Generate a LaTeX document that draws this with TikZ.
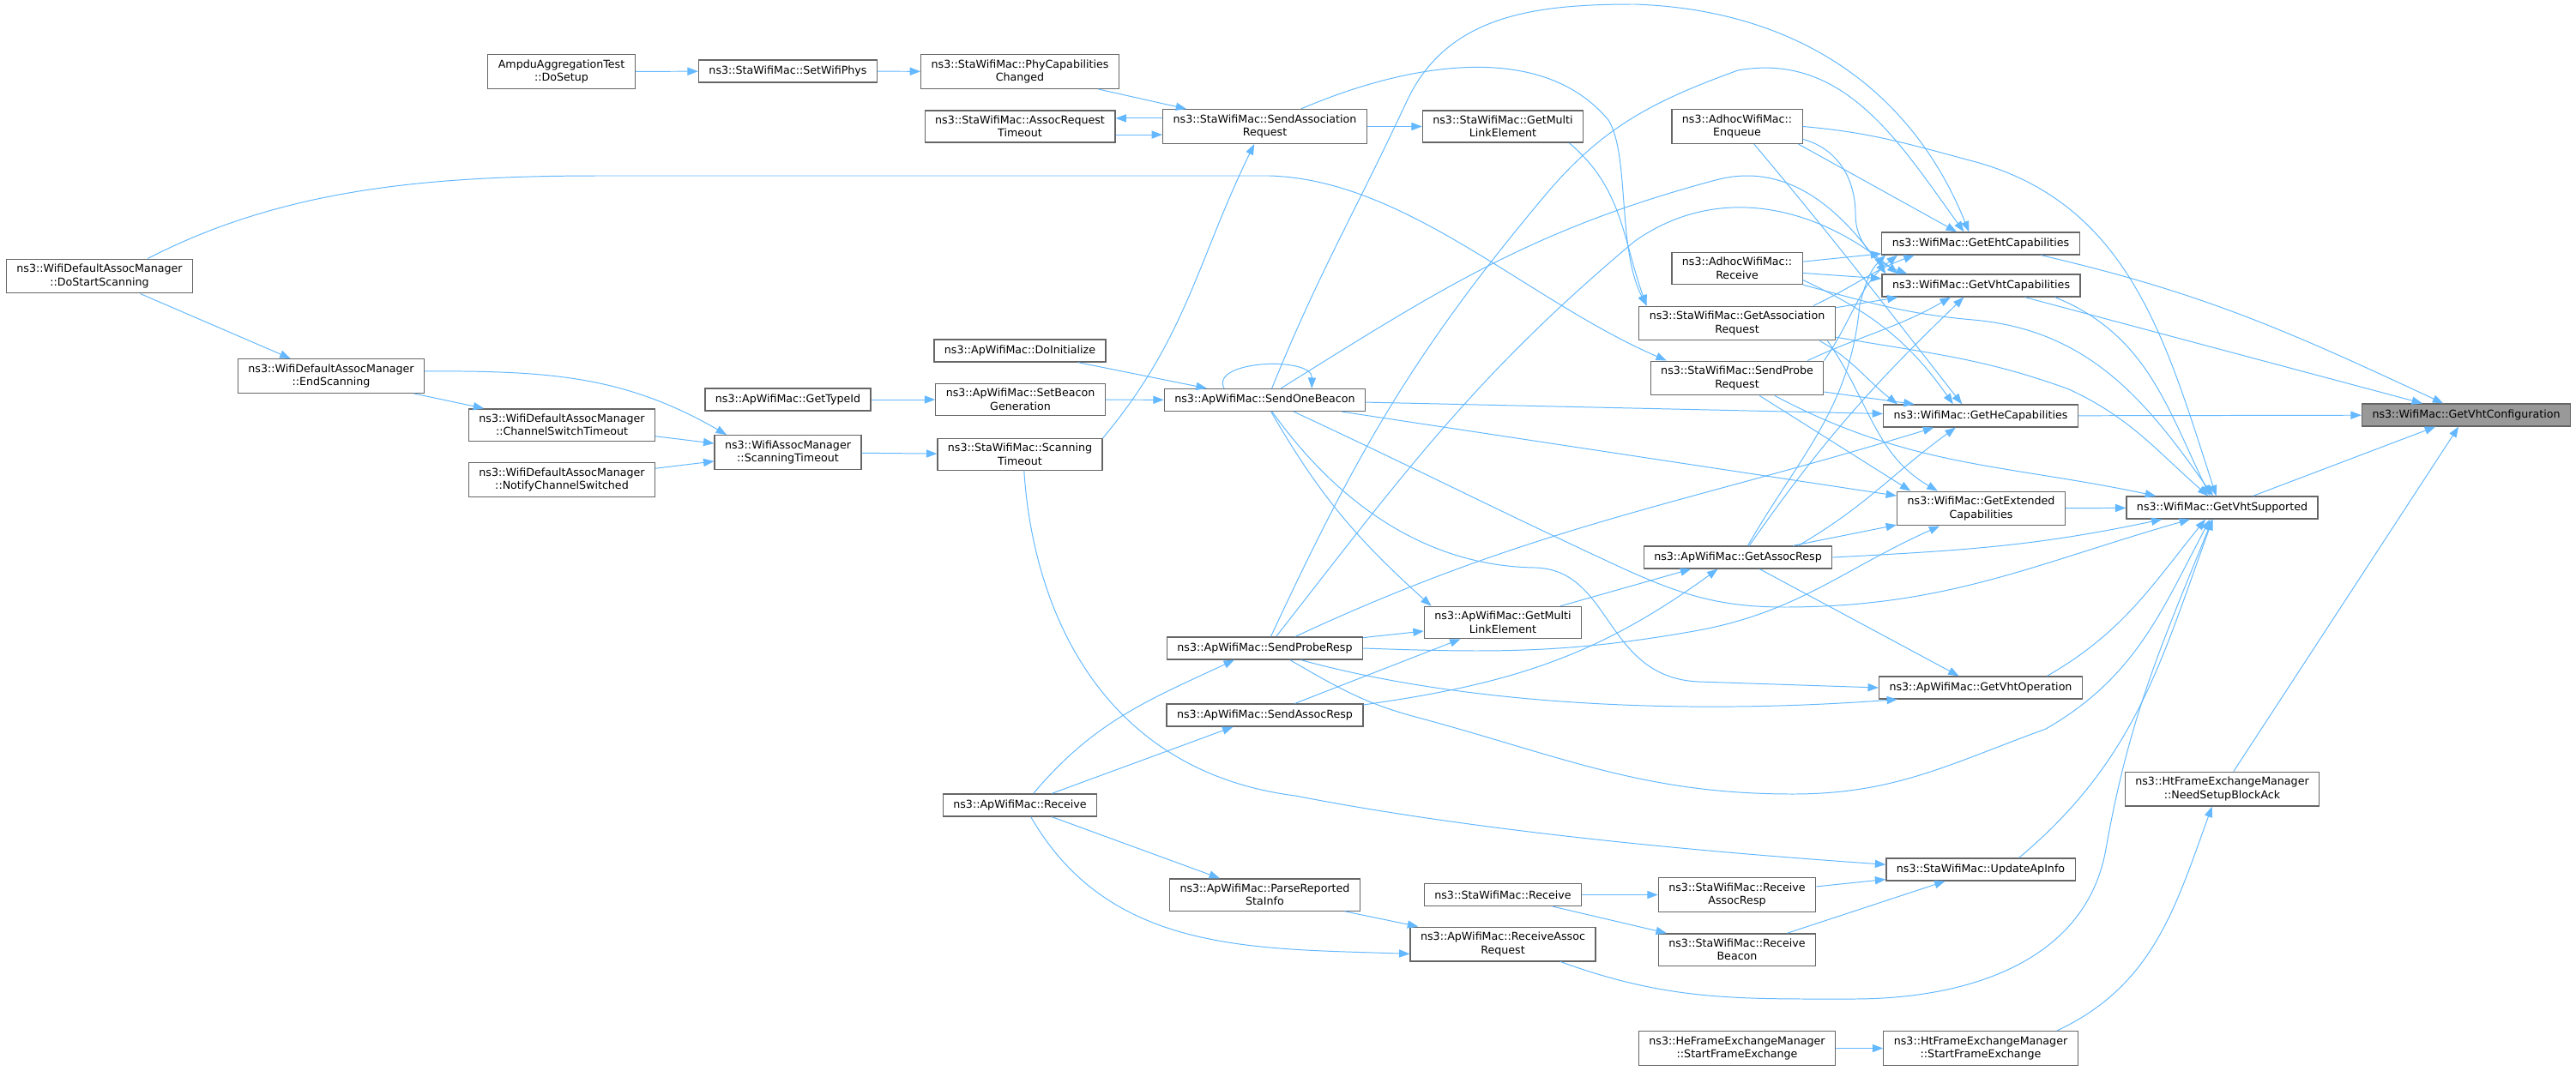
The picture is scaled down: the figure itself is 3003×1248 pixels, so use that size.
\documentclass[tikz,border=0pt]{standalone}
\usepackage{fontspec}
\setmainfont{DejaVu Sans}
\usepackage{tikz}
\usetikzlibrary{arrows.meta}

\definecolor{edgeblue}{HTML}{63B8FF}
\definecolor{boxline}{HTML}{666666}
\definecolor{rootfill}{HTML}{999999}

\begin{document}
\begin{tikzpicture}[x=0.25mm, y=-0.25mm, font=\fontsize{9}{11}\selectfont]
      \useasboundingbox (0,0) rectangle (3003,1248);

      \begin{scope}[every node/.style={rectangle, draw=boxline, fill=white, line width=0.9pt, inner xsep=3mm, inner ysep=1.5mm, minimum height=6.5mm, align=center}]
        \node (dostart) at (116,322) {ns3::WifiDefaultAssocManager\\::DoStartScanning};
        \node (endscan) at (386,438.5) {ns3::WifiDefaultAssocManager\\::EndScanning};
        \node (chswitch) at (655,495.5) {ns3::WifiDefaultAssocManager\\::ChannelSwitchTimeout};
        \node (notifych) at (655,559.5) {ns3::WifiDefaultAssocManager\\::NotifyChannelSwitched};
        \node (ampdu) at (654.5,83.5) {AmpduAggregationTest\\::DoSetup};
        \node (setphys) at (918.5,83) {ns3::StaWifiMac::SetWifiPhys};
        \node (gettypeid) at (918.5,466) {ns3::ApWifiMac::GetTypeId};
        \node (scantimeout) at (918.5,527.5) {ns3::WifiAssocManager\\::ScanningTimeout};
        \node (phycap) at (1189,83.5) {ns3::StaWifiMac::PhyCapabilities\\Changed};
        \node (assoctimeout) at (1189,147.5) {ns3::StaWifiMac::AssocRequest\\Timeout};
        \node (doinit) at (1189,409) {ns3::ApWifiMac::DoInitialize};
        \node (setbeacon) at (1189.5,466) {ns3::ApWifiMac::SetBeacon\\Generation};
        \node (stascan) at (1189,530) {ns3::StaWifiMac::Scanning\\Timeout};
        \node (apreceive) at (1189,939) {ns3::ApWifiMac::Receive};
        \node (sendassoc) at (1474.5,147.5) {ns3::StaWifiMac::SendAssociation\\Request};
        \node (sendbeacon) at (1474.5,466.5) {ns3::ApWifiMac::SendOneBeacon};
        \node (sendproberesp) at (1474.5,756) {ns3::ApWifiMac::SendProbeResp};
        \node (sendassocresp) at (1474.5,834) {ns3::ApWifiMac::SendAssocResp};
        \node (parsesta) at (1474.5,1043.5) {ns3::ApWifiMac::ParseReported\\StaInfo};
        \node (stamle) at (1752,147.5) {ns3::StaWifiMac::GetMulti\\LinkElement};
        \node (apmle) at (1752,726) {ns3::ApWifiMac::GetMulti\\LinkElement};
        \node (starx) at (1752,1043.5) {ns3::StaWifiMac::Receive};
        \node (rxassocreq) at (1752,1101) {ns3::ApWifiMac::ReceiveAssoc\\Request};
        \node (enqueue) at (2025,147.5) {ns3::AdhocWifiMac::\\Enqueue};
        \node (adhocrx) at (2025,313) {ns3::AdhocWifiMac::\\Receive};
        \node (getassocreq) at (2025,377) {ns3::StaWifiMac::GetAssociation\\Request};
        \node (sendprobereq) at (2025,441) {ns3::StaWifiMac::SendProbe\\Request};
        \node (getassocresp) at (2026,650) {ns3::ApWifiMac::GetAssocResp};
        \node (rxassocresp) at (2025,1043.5) {ns3::StaWifiMac::Receive\\AssocResp};
        \node (rxbeacon) at (2025,1107.5) {ns3::StaWifiMac::Receive\\Beacon};
        \node (hestart) at (2025,1222.5) {ns3::HeFrameExchangeManager\\::StartFrameExchange};
        \node (ehtcap) at (2309,284) {ns3::WifiMac::GetEhtCapabilities};
        \node (vhtcap) at (2309.5,333) {ns3::WifiMac::GetVhtCapabilities};
        \node (hecap) at (2309,485) {ns3::WifiMac::GetHeCapabilities};
        \node (extcap) at (2309.5,593) {ns3::WifiMac::GetExtended\\Capabilities};
        \node (getvhtop) at (2309,802) {ns3::ApWifiMac::GetVhtOperation};
        \node (updateap) at (2309,1014) {ns3::StaWifiMac::UpdateApInfo};
        \node (htstart) at (2309,1222.5) {ns3::HtFrameExchangeManager\\::StartFrameExchange};
        \node (vhtsupp) at (2590.5,592) {ns3::WifiMac::GetVhtSupported};
        \node (needba) at (2590.5,920) {ns3::HtFrameExchangeManager\\::NeedSetupBlockAck};
        \node[fill=rootfill] (vhtconf) at (2875,484) {ns3::WifiMac::GetVhtConfiguration};
      \end{scope}

      \begin{scope}[->, >={Triangle[length=3.1mm, width=2.3mm]}, color=edgeblue, line width=0.7pt]
        % scanning and association
        \draw (ampdu) to (setphys);
        \draw (setphys) to (phycap);
        \draw (phycap) to (sendassoc);
        \draw ([yshift=2.4mm]sendassoc.west) to ([yshift=2.4mm]assoctimeout.east);
        \draw ([yshift=-2.4mm]assoctimeout.east) to ([yshift=-2.4mm]sendassoc.west);
        \draw (sendassoc) to (stamle);
        \draw (sendassoc.26) .. controls (1650,70) and (1800,50) .. (1875,140) .. controls (1900,180) and (1885,290) .. (getassocreq.169);
        \draw (stamle.-14) to [out=-40, in=110] (getassocreq.169);
        \draw (stascan.north east) to [out=50, in=-116] (sendassoc.-121);
        \draw (scantimeout) to (stascan);
        \draw (stascan.-76) .. controls (1205,720) and (1290,900) .. (1510,928) .. controls (1750,975) and (2050,998) .. (updateap.177);
        \draw (dostart) to (endscan);
        \draw (dostart.20) .. controls (330,220) and (500,205) .. (700,205) -- (1480,205) .. controls (1640,210) and (1780,350) .. (sendprobereq.166);
        \draw (endscan) to (chswitch);
        \draw (endscan.3) to [out=0, in=150] (scantimeout.164);
        \draw (chswitch) to (scantimeout);
        \draw (notifych) to (scantimeout);

        % beacons
        \draw (gettypeid) to (setbeacon);
        \draw (setbeacon) to (sendbeacon);
        \draw (doinit) to (sendbeacon);
        \draw (sendbeacon.164) .. controls (1410,420) and (1530,415) .. (sendbeacon.14);

        % capabilities
        \draw (enqueue.-16) to (ehtcap.154);
        \draw (adhocrx) to (ehtcap);
        \draw (getassocreq.13) to [out=25, in=200] (ehtcap.190);
        \draw (sendprobereq.north east) to [out=55, in=218] (ehtcap.188);
        \draw (sendbeacon.59) to [out=68, in=-115] (1640,118) to [out=65, in=180] (1906,5) to [out=-2, in=112] (ehtcap.135);
        \draw (sendproberesp.63) to [out=65, in=-130] (1801,228) to [out=50, in=200] (2026,82) to [out=10, in=126] (ehtcap.145);
        \draw (getassocresp.50) to [out=60, in=-95] (2168,355) to [out=75, in=225] (ehtcap.187);

        \draw (enqueue.-11) to [out=-15, in=90] (2163,250) to [out=-90, in=160] (vhtcap.171);
        \draw (adhocrx) to (vhtcap);
        \draw (getassocreq.9) to (vhtcap.-172);
        \draw (sendprobereq.14) to [out=25, in=-150] (vhtcap.-159);
        \draw (sendbeacon.36) to [out=32, in=195] (2000,210) to [out=15, in=125] (vhtcap.173);
        \draw (sendproberesp.46) to [out=52, in=-140] (1906,281) to [out=35, in=140] (vhtcap.172);
        \draw (getassocresp.46) to [out=55, in=-136] (vhtcap.-146);

        \draw (enqueue.-46) to [out=-50, in=128] (hecap.148);
        \draw (adhocrx.-10) to [out=-25, in=125] (hecap.157);
        \draw (getassocreq.-12) to [out=-30, in=142] (hecap.172);
        \draw (sendprobereq.-9) to (hecap.170);
        \draw (sendbeacon) to (hecap);
        \draw (sendproberesp.21) to [out=25, in=-163] (hecap.-166);
        \draw (getassocresp.11) to [out=30, in=-144] (hecap.-155);

        \draw (getassocreq.-11) to [out=-55, in=150] (extcap.158);
        \draw (sendprobereq.-38) to (extcap.166);
        \draw (sendbeacon) to (extcap);
        \draw (sendproberesp.east) to [out=-2, in=190] (1975,736) to [out=10, in=204] (extcap.-157);
        \draw (getassocresp.12) to (extcap.-169);

        % GetVhtSupported
        \draw (enqueue.east) to [out=-5, in=165] (2300,188) to [out=-15, in=108] (vhtsupp.117);
        \draw (adhocrx.-14) to [out=-15, in=175] (2300,373) to [out=-5, in=125] (vhtsupp.128);
        \draw (getassocreq.-8) to [out=-10, in=160] (2412,454) to [out=-25, in=139] (vhtsupp.140);
        \draw (sendprobereq.-25) to [out=-28, in=168] (vhtsupp.170);
        \draw (vhtcap.-9) to [out=-22, in=116] (vhtsupp.136);
        \draw (extcap) to (vhtsupp);
        \draw (getassocresp.east) to [out=3, in=-168] (vhtsupp.-169);
        \draw (sendbeacon.-22) to [out=-25, in=155] (1875,655) to [out=-25, in=180] (2080,708) to [out=0, in=-164] (vhtsupp.-160);
        \draw (getvhtop.10) to [out=30, in=-129] (vhtsupp.-145);
        \draw (sendproberesp.-25) to [out=-30, in=165] (1650,836) to [out=-15, in=180] (2090,926) to [out=0, in=200] (2385,850) to [out=30, in=-118] (vhtsupp.-136);
        \draw (updateap.17) to [out=40, in=-110] (vhtsupp.-129);
        \draw (rxassocreq.-17) to [out=-20, in=180] (2160,1165) to [out=0, in=-100] (2455,990) to [out=80, in=-112] (vhtsupp.-130);

        % access point side
        \draw (sendbeacon.-62) to [out=-60, in=138] (apmle.167);
        \draw (sendbeacon.-58) .. controls (1540,560) and (1640,660) .. (1790,662) .. controls (1880,665) and (1870,790) .. (1980,795) -- (getvhtop.west);
        \draw (sendproberesp) to (apmle);
        \draw (sendproberesp.-18) .. controls (1700,820) and (1950,835) .. (getvhtop.-172);
        \draw (sendassocresp) to (apmle);
        \draw (sendassocresp.6) to [out=8, in=-144] (getassocresp.-150);
        \draw (apmle.16) to (getassocresp.-166);
        \draw (getassocresp) to (getvhtop);
        \draw (apreceive.41) to [out=50, in=-155] (sendproberesp.-159);
        \draw (apreceive) to (sendassocresp);
        \draw (apreceive) to (parsesta);
        \draw (apreceive.-47) to [out=-60, in=178] (rxassocreq.186);
        \draw (parsesta) to (rxassocreq);

        % station side
        \draw (starx) to (rxassocresp);
        \draw (starx) to (rxbeacon);
        \draw (rxassocresp) to (updateap);
        \draw (rxbeacon) to (updateap);
        \draw (hestart) to (htstart);
        \draw (htstart.13) to [out=25, in=-110] (needba.-120);

        % GetVhtConfiguration
        \draw (ehtcap.-11) to [out=-13, in=155] (vhtconf.153);
        \draw (vhtcap) to (vhtconf);
        \draw (hecap) to (vhtconf);
        \draw (vhtsupp) to (vhtconf);
        \draw (needba) to (vhtconf);
      \end{scope}
\end{tikzpicture}
\end{document}
